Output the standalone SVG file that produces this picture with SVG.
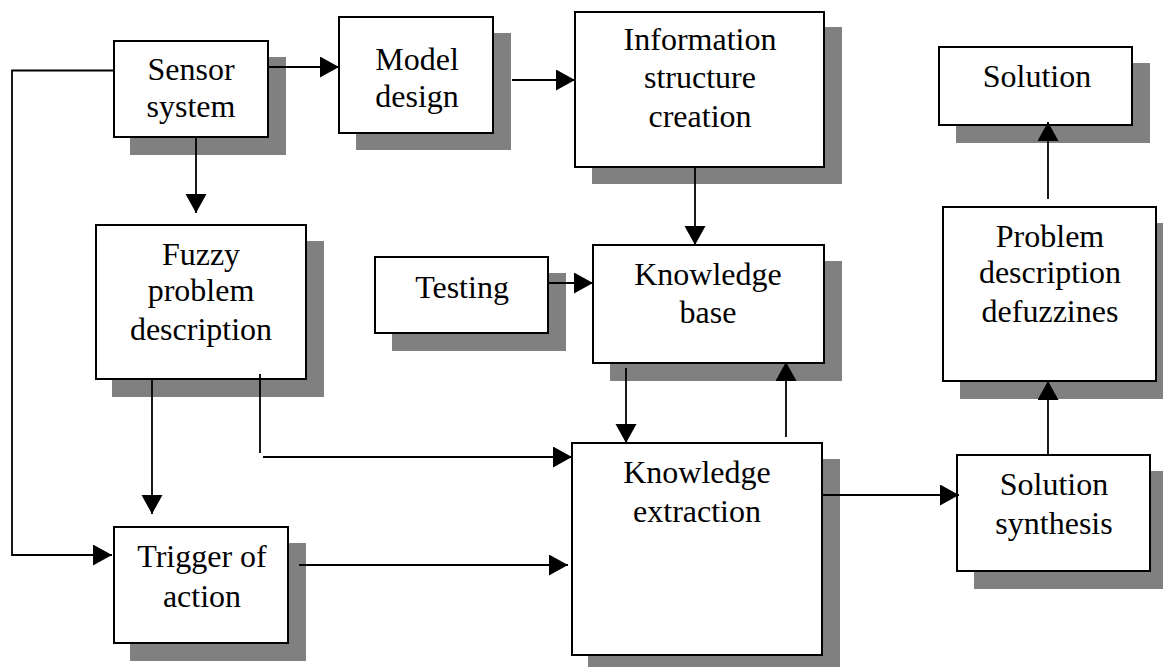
<svg xmlns="http://www.w3.org/2000/svg" width="1163" height="667" viewBox="0 0 1163 667">
<style>
.sh{fill:#808080;stroke:none}
.bx{fill:#fff;stroke:#000;stroke-width:2}
.t{font-family:"Liberation Serif","Times New Roman",serif;font-size:32px;fill:#000;text-anchor:middle}
.c{fill:none;stroke:#000;stroke-width:1.8}
</style>
<defs>
<marker id="ah" markerUnits="userSpaceOnUse" markerWidth="20" markerHeight="22" refX="19" refY="10.5" orient="auto">
<path d="M0,0 L19,10.5 L0,21 z" fill="#000"/>
</marker>
</defs>
<rect width="1163" height="667" fill="#fff"/>
<g id="sensor">
<rect class="sh" x="130" y="57" width="156" height="98"/>
<rect class="bx" x="114" y="41" width="154" height="96"/>
<text class="t" x="191" y="80">Sensor</text>
<text class="t" x="191" y="117">system</text>
</g>
<g id="model">
<rect class="sh" x="356" y="33" width="155" height="117"/>
<rect class="bx" x="339" y="17" width="154" height="116"/>
<text class="t" x="417" y="70">Model</text>
<text class="t" x="417" y="107">design</text>
</g>
<g id="info">
<rect class="sh" x="592" y="27" width="250" height="157"/>
<rect class="bx" x="575" y="12" width="249" height="155"/>
<text class="t" x="700" y="50">Information</text>
<text class="t" x="700" y="88">structure</text>
<text class="t" x="700" y="127">creation</text>
</g>
<g id="solution">
<rect class="sh" x="956" y="63" width="194" height="80"/>
<rect class="bx" x="939" y="47" width="193" height="78"/>
<text class="t" x="1037" y="87">Solution</text>
</g>
<g id="defuzz">
<rect class="sh" x="960" y="223" width="214" height="176"/>
<rect class="bx" x="943" y="207" width="213" height="174"/>
<text class="t" x="1050" y="247">Problem</text>
<text class="t" x="1050" y="283">description</text>
<text class="t" x="1050" y="322">defuzzines</text>
</g>
<g id="fuzzy">
<rect class="sh" x="112" y="241" width="212" height="156"/>
<rect class="bx" x="96" y="225" width="210" height="154"/>
<text class="t" x="201" y="265">Fuzzy</text>
<text class="t" x="201" y="301">problem</text>
<text class="t" x="201" y="340">description</text>
</g>
<g id="testing">
<rect class="sh" x="392" y="273" width="174" height="78"/>
<rect class="bx" x="375" y="257" width="173" height="76"/>
<text class="t" x="462" y="298">Testing</text>
</g>
<g id="kbase">
<rect class="sh" x="610" y="261" width="232" height="120"/>
<rect class="bx" x="593" y="245" width="231" height="118"/>
<text class="t" x="708" y="285">Knowledge</text>
<text class="t" x="708" y="323">base</text>
</g>
<g id="kextract">
<rect class="sh" x="588" y="459" width="252" height="214"/>
<rect class="bx" x="572" y="443" width="250" height="212"/>
<text class="t" x="697" y="483">Knowledge</text>
<text class="t" x="697" y="522">extraction</text>
</g>
<g id="trigger">
<rect class="sh" x="130" y="543" width="176" height="118"/>
<rect class="bx" x="114" y="527" width="174" height="116"/>
<text class="t" x="202" y="567">Trigger of</text>
<text class="t" x="202" y="607">action</text>
</g>
<g id="synthesis">
<rect class="sh" x="974" y="471" width="194" height="118"/>
<rect class="bx" x="957" y="455" width="193" height="116"/>
<text class="t" x="1054" y="495">Solution</text>
<text class="t" x="1054" y="534">synthesis</text>
</g>
<g id="connectors">
<path class="c" d="M113,70.5 H12 V555 H112" marker-end="url(#ah)"/>
<path class="c" d="M268,67 H339" marker-end="url(#ah)"/>
<path class="c" d="M196,137 V213" marker-end="url(#ah)"/>
<path class="c" d="M512,80 H575" marker-end="url(#ah)"/>
<path class="c" d="M695,167 V245" marker-end="url(#ah)"/>
<path class="c" d="M548,283 H593" marker-end="url(#ah)"/>
<path class="c" d="M626,368 V443" marker-end="url(#ah)"/>
<path class="c" d="M786,437 V362" marker-end="url(#ah)"/>
<path class="c" d="M152,379 V514" marker-end="url(#ah)"/>
<path class="c" d="M260,374 V453"/>
<path class="c" d="M263,457 H572" marker-end="url(#ah)"/>
<path class="c" d="M299,565 H568" marker-end="url(#ah)"/>
<path class="c" d="M822,495 H959" marker-end="url(#ah)"/>
<path class="c" d="M1048,455 V381" marker-end="url(#ah)"/>
<path class="c" d="M1048,199 V122" marker-end="url(#ah)"/>
</g>
</svg>
